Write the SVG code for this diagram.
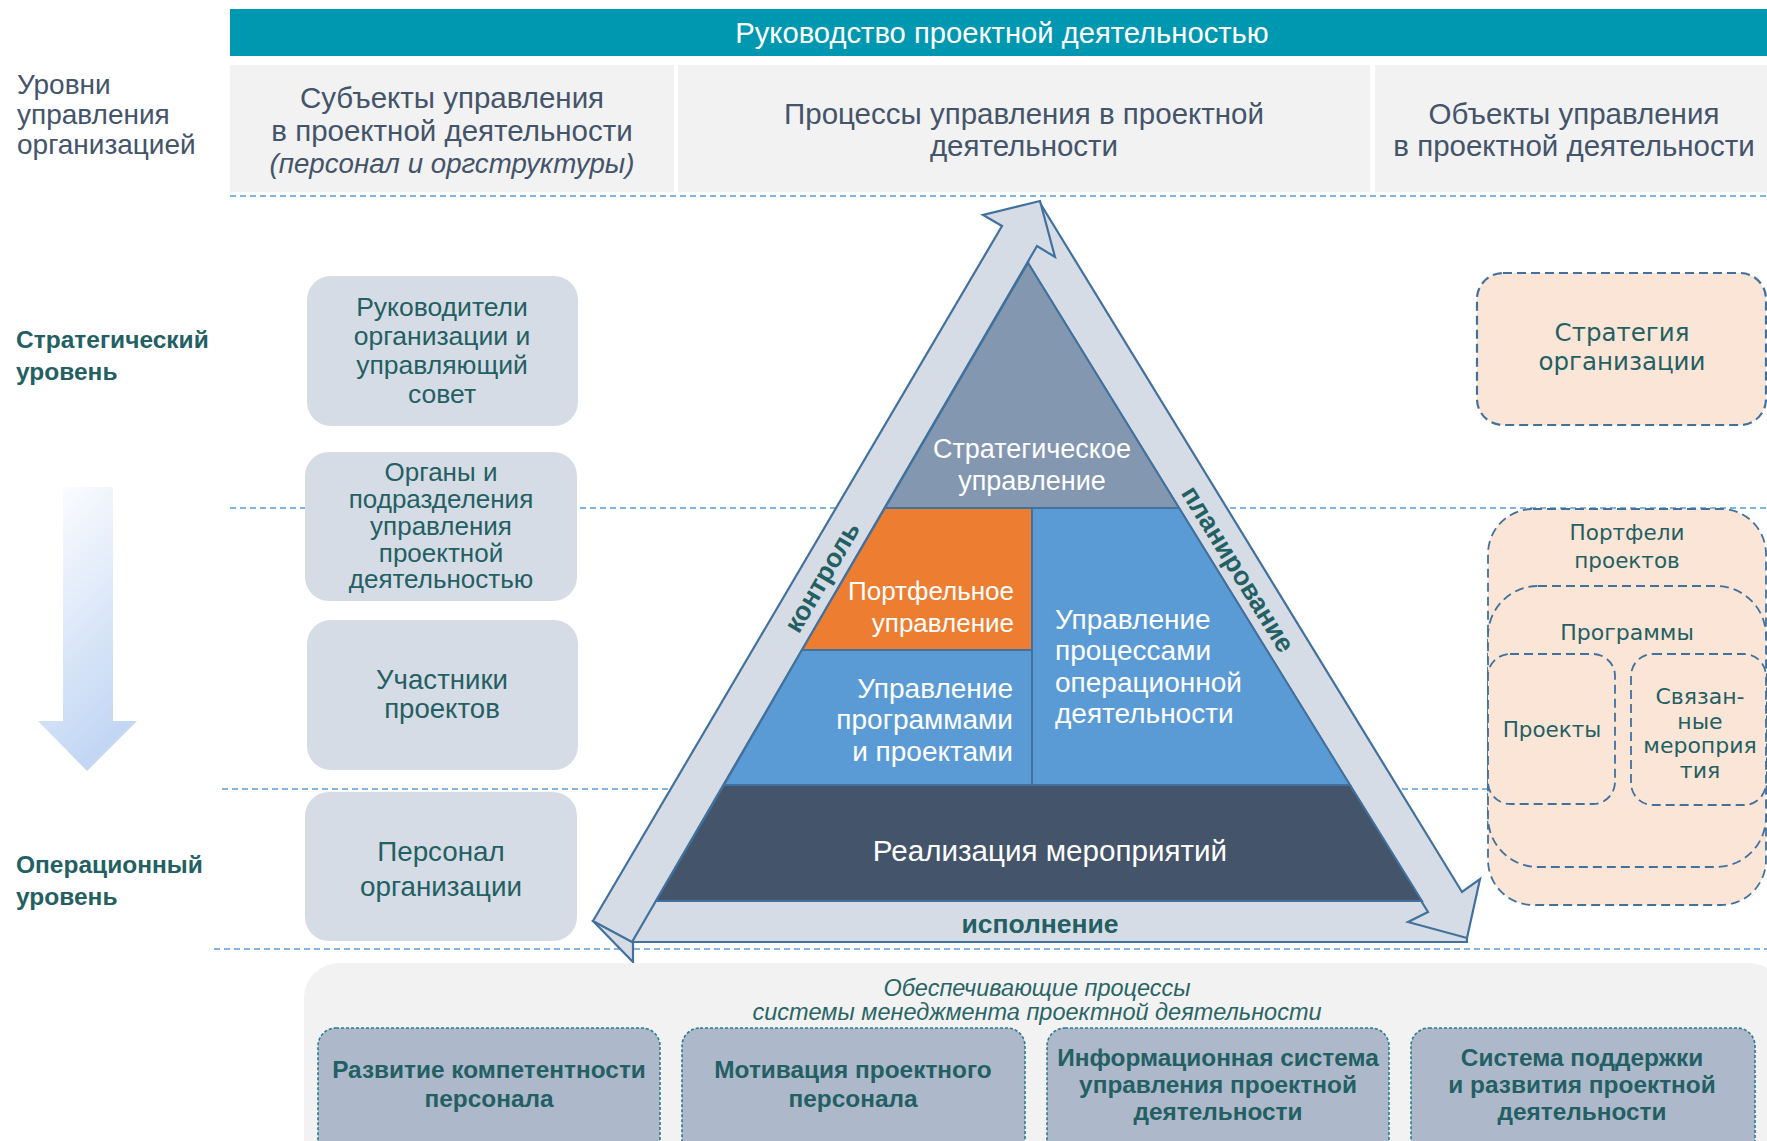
<svg xmlns="http://www.w3.org/2000/svg" width="1767" height="1141" viewBox="0 0 1767 1141">
<defs>
<style>
.s{font-family:"Liberation Sans",Arial,sans-serif}
.w{font-family:"DejaVu Sans",Verdana,sans-serif}
.hdr{font-size:29.5px;fill:#44546a;text-anchor:middle}
.lvl{font-size:28px;fill:#44546a}
.lvb{font-size:24.5px;font-weight:bold;fill:#235f63}
.box{fill:#d6dce5}
.boxt{font-size:26.5px;fill:#245f63;text-anchor:middle}
.pt{font-size:28px;fill:#ffffff}
.band{fill:#d6dce5;stroke:#41719c;stroke-width:2.2;stroke-linejoin:miter}
.layer{stroke:#41719c;stroke-width:2}
.bt{font-size:26.5px;font-weight:bold;fill:#235f63;text-anchor:middle}
.obj{fill:#fbe5d6;stroke:#41719c;stroke-width:1.8;stroke-dasharray:9 5}
.ot{font-size:22px;fill:#245f63;text-anchor:middle}
.sep{stroke:#5b9bd5;stroke-width:1.5;stroke-dasharray:6 4;fill:none}
.sup{fill:#adb9ca;stroke:#2b7d8a;stroke-width:1.6;stroke-dasharray:3 2}
.supt{font-size:24.4px;font-weight:bold;fill:#235f63;text-anchor:middle}
.it{font-size:23.5px;font-style:italic;fill:#2a6566;text-anchor:middle}
</style>
<linearGradient id="gArrow" x1="0" y1="0" x2="0.35" y2="1">
<stop offset="0" stop-color="#ffffff"/>
<stop offset="1" stop-color="#c3d7f4"/>
</linearGradient>
</defs>

<rect width="1767" height="1141" fill="#ffffff"/>

<g id="level-lines">
<line class="sep" x1="230" y1="196" x2="1767" y2="196"/>
<line class="sep" x1="230" y1="508" x2="1767" y2="508"/>
<line class="sep" x1="222" y1="789" x2="1767" y2="789"/>
<line class="sep" x1="214" y1="949" x2="1767" y2="949"/>
</g>

<g id="title">
<rect x="230" y="9" width="1537" height="47" fill="#0098b0"/>
<text class="s" x="1002" y="43" font-size="29.2" fill="#ffffff" text-anchor="middle">Руководство проектной деятельностью</text>
</g>

<g id="header-subjects">
<rect x="230" y="65" width="444" height="127" fill="#f2f2f2"/>
<text class="s hdr" x="452" y="108">Субъекты управления</text>
<text class="s hdr" x="452" y="141">в проектной деятельности</text>
<text class="s hdr" x="452" y="173" style="font-style:italic;font-size:27.7px">(персонал и оргструктуры)</text>
</g>
<g id="header-processes">
<rect x="678" y="65" width="692" height="127" fill="#f2f2f2"/>
<text class="s hdr" x="1024" y="124">Процессы управления в проектной</text>
<text class="s hdr" x="1024" y="156">деятельности</text>
</g>
<g id="header-objects">
<rect x="1375" y="65" width="392" height="127" fill="#f2f2f2"/>
<text class="s hdr" x="1574" y="124">Объекты управления</text>
<text class="s hdr" x="1574" y="156">в проектной деятельности</text>
</g>

<g id="label-levels">
<text class="s lvl" x="17" y="94">Уровни</text>
<text class="s lvl" x="17" y="124">управления</text>
<text class="s lvl" x="17" y="154">организацией</text>
</g>
<g id="label-strategic">
<text class="s lvb" x="16" y="348">Стратегический</text>
<text class="s lvb" x="16" y="380">уровень</text>
</g>
<g id="label-operational">
<text class="s lvb" x="16" y="873">Операционный</text>
<text class="s lvb" x="16" y="905">уровень</text>
</g>
<g id="level-arrow">
<polygon points="63,487 113,487 113,721 137,721 87,771 38,721 63,721" fill="url(#gArrow)"/>
</g>

<g id="subj-leaders">
<rect class="box" x="307" y="276" width="271" height="150" rx="24"/>
<text class="s boxt" x="442" y="316">Руководители</text>
<text class="s boxt" x="442" y="345">организации и</text>
<text class="s boxt" x="442" y="374">управляющий</text>
<text class="s boxt" x="442" y="403">совет</text>
</g>
<g id="subj-organs">
<rect class="box" x="305" y="452" width="272" height="149" rx="24"/>
<text class="s boxt" x="441" y="481" style="font-size:26px">Органы и</text>
<text class="s boxt" x="441" y="508" style="font-size:26px">подразделения</text>
<text class="s boxt" x="441" y="535" style="font-size:26px">управления</text>
<text class="s boxt" x="441" y="562" style="font-size:26px">проектной</text>
<text class="s boxt" x="441" y="588" style="font-size:26px">деятельностью</text>
</g>
<g id="subj-participants">
<rect class="box" x="307" y="620" width="271" height="150" rx="24"/>
<text class="s boxt" x="442" y="689" style="font-size:27.6px">Участники</text>
<text class="s boxt" x="442" y="718" style="font-size:27.6px">проектов</text>
</g>
<g id="subj-staff">
<rect class="box" x="305" y="792" width="272" height="149" rx="24"/>
<text class="s boxt" x="441" y="861" style="font-size:27.8px">Персонал</text>
<text class="s boxt" x="441" y="896" style="font-size:27.8px">организации</text>
</g>

<g id="connectors">
<polygon id="arrow-execution" class="band" points="593,921 633,962 633,942 1467,942 1467,900 640,900"/>
<polygon id="arrow-planning" class="band" points="1040,203 1462,892 1480,879 1467,938 1408,922 1428,912 1028,263"/>
<polygon id="arrow-control" class="band" points="593,921 1002,226 983,215 1040,201 1055,257 1037,246 632,942"/>
</g>

<g id="layer-strategic">
<polygon class="layer" fill="#8497b0" points="1028,263 1179,508 885,508"/>
<text class="s pt" x="1032" y="458" text-anchor="middle" style="font-size:27px">Стратегическое</text>
<text class="s pt" x="1032" y="490" text-anchor="middle" style="font-size:27px">управление</text>
</g>
<g id="layer-portfolio">
<polygon class="layer" fill="#ed7d31" points="885,508 1032,508 1032,650 802,650"/>
<text class="s pt" x="1014" y="600" text-anchor="end" style="font-size:26px">Портфельное</text>
<text class="s pt" x="1014" y="632" text-anchor="end" style="font-size:26px">управление</text>
</g>
<g id="layer-operations">
<polygon class="layer" fill="#5b9bd5" points="1032,508 1179,508 1350,785 1032,785"/>
<text class="s pt" x="1055" y="629">Управление</text>
<text class="s pt" x="1055" y="660">процессами</text>
<text class="s pt" x="1055" y="692">операционной</text>
<text class="s pt" x="1055" y="723">деятельности</text>
</g>
<g id="layer-programs">
<polygon class="layer" fill="#5b9bd5" points="802,650 1032,650 1032,785 724,785"/>
<text class="s pt" x="1013" y="698" text-anchor="end">Управление</text>
<text class="s pt" x="1013" y="729" text-anchor="end">программами</text>
<text class="s pt" x="1013" y="761" text-anchor="end">и проектами</text>
</g>
<g id="layer-realization">
<polygon class="layer" fill="#44546a" points="724,785 1350,785 1422,901 656,901"/>
<text class="s" x="1050" y="861" font-size="29.6" fill="#ffffff" text-anchor="middle">Реализация мероприятий</text>
</g>

<g id="cycle-labels">
<text class="s bt" transform="translate(822,577) rotate(-59.7)" x="0" y="9">контроль</text>
<text class="s bt" transform="translate(1238,569) rotate(58.3)" x="0" y="9">планирование</text>
<text class="s bt" x="1040" y="933">исполнение</text>
</g>

<g id="obj-strategy">
<rect class="obj" x="1477" y="273" width="289" height="152" rx="26" style="stroke-width:2.2"/>
<text class="w ot" x="1622" y="341" style="font-size:24.5px">Стратегия</text>
<text class="w ot" x="1622" y="370" style="font-size:24.5px">организации</text>
</g>
<g id="obj-portfolios">
<rect class="obj" x="1488" y="509" width="278" height="396" rx="45"/>
<text class="w ot" x="1627" y="540" style="font-size:21.5px">Портфели</text>
<text class="w ot" x="1627" y="568" style="font-size:21.5px">проектов</text>
</g>
<g id="obj-programs">
<rect class="obj" x="1488" y="586" width="278" height="281" rx="50"/>
<text class="w ot" x="1627" y="640">Программы</text>
</g>
<g id="obj-projects">
<rect class="obj" x="1488" y="654" width="127" height="150" rx="22"/>
<text class="w ot" x="1552" y="737" style="font-size:21.5px">Проекты</text>
</g>
<g id="obj-related">
<rect class="obj" x="1631" y="654" width="135" height="151" rx="22"/>
<text class="w ot" x="1700" y="704">Связан-</text>
<text class="w ot" x="1700" y="729">ные</text>
<text class="w ot" x="1700" y="753">мероприя</text>
<text class="w ot" x="1700" y="778">тия</text>
</g>

<g id="support-panel">
<rect x="304" y="963" width="1480" height="220" rx="35" fill="#f2f2f2"/>
<text class="s it" x="1037" y="996">Обеспечивающие процессы</text>
<text class="s it" x="1037" y="1020">системы менеджмента проектной деятельности</text>
</g>
<g id="support-competence">
<rect class="sup" x="318" y="1028" width="342" height="140" rx="18"/>
<text class="s supt" x="489" y="1078">Развитие компетентности</text>
<text class="s supt" x="489" y="1107">персонала</text>
</g>
<g id="support-motivation">
<rect class="sup" x="682" y="1028" width="343" height="140" rx="18"/>
<text class="s supt" x="853" y="1078">Мотивация проектного</text>
<text class="s supt" x="853" y="1107">персонала</text>
</g>
<g id="support-is">
<rect class="sup" x="1047" y="1028" width="342" height="140" rx="18"/>
<text class="s supt" x="1218" y="1066">Информационная система</text>
<text class="s supt" x="1218" y="1093">управления проектной</text>
<text class="s supt" x="1218" y="1120">деятельности</text>
</g>
<g id="support-system">
<rect class="sup" x="1411" y="1028" width="344" height="140" rx="18"/>
<text class="s supt" x="1582" y="1066">Система поддержки</text>
<text class="s supt" x="1582" y="1093">и развития проектной</text>
<text class="s supt" x="1582" y="1120">деятельности</text>
</g>
</svg>
